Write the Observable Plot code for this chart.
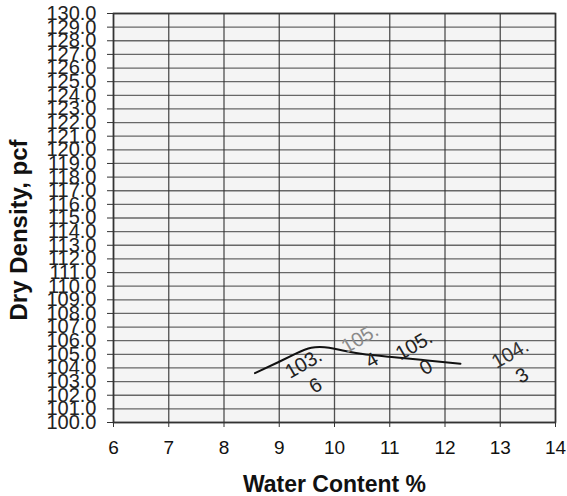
<!DOCTYPE html>
<html>
<head>
<meta charset="utf-8">
<script src="https://cdn.jsdelivr.net/npm/d3@7"></script>
<script src="https://cdn.jsdelivr.net/npm/@observablehq/plot@0.6"></script>
<style>
  html, body { margin: 0; padding: 0; background: #fff; }
  #chart svg { display: block; }
</style>
</head>
<body>
<div id="chart"></div>
<script>
// Compaction curve
const curveWater = [8.56, 8.98, 9.30, 9.58, 9.82, 10.0, 10.48, 11.08, 11.68, 12.28];
const curveDensity = [103.62, 104.42, 105.05, 105.48, 105.52, 105.41, 105.04, 104.79, 104.55, 104.31];

// Point labels (values split over two lines, as in the picture)
const labelTop = ["103.", "105.", "105.", "104."];
const labelBottom = ["6", "4", "0", "3"];
const labelX = [9.44, 10.46, 11.44, 13.18];
const labelY = [104.31, 106.16, 105.65, 105.04];
const labelTopColor = ["#222", "#8a8a8a", "#222", "#333"];

const xTicks = [6, 7, 8, 9, 10, 11, 12, 13, 14];
const yTicks = [100, 101, 102, 103, 104, 105, 106, 107, 108, 109, 110, 111, 112, 113, 114, 115,
                116, 117, 118, 119, 120, 121, 122, 123, 124, 125, 126, 127, 128, 129, 130];

const xTitle = "Water Content %";
const yTitle = "Dry Density, pcf";

const curve = curveWater.map((w, i) => ({w, d: curveDensity[i]}));
const labels = labelTop.map((t, i) => ({top: t, bottom: labelBottom[i], x: labelX[i], y: labelY[i], c: labelTopColor[i]}));

const font = "'Liberation Sans', Arial, sans-serif";

const chart = Plot.plot({
  width: 567,
  height: 496,
  marginLeft: 113,
  marginRight: 12,
  marginTop: 13,
  marginBottom: 74,
  style: {fontFamily: font, background: "#fff", color: "#222"},
  x: {domain: [6, 14], ticks: xTicks, label: null},
  y: {domain: [100, 130], ticks: yTicks, label: null},
  marks: [
    Plot.frame({fill: "#f4f4f4", stroke: null}),
    Plot.gridY(yTicks, {stroke: "#444", strokeOpacity: 0.8, strokeWidth: 1.3}),
    Plot.gridX(xTicks, {stroke: "#333", strokeOpacity: 0.85, strokeWidth: 1.3}),
    Plot.axisY(yTicks, {
      tickSize: 6, tickPadding: 11, fontSize: 20, stroke: "#333",
      tickFormat: d => d.toFixed(1), fill: "#222"
    }),
    Plot.axisX(xTicks, {
      tickSize: 5, tickPadding: 13, fontSize: 19, stroke: "#333", fill: "#111"
    }),
    Plot.frame({stroke: "#333", strokeWidth: 1.6}),
    Plot.line(curve, {x: "w", y: "d", curve: "natural", stroke: "#111", strokeWidth: 2}),
    Plot.text(labels, {
      x: "x", y: "y", text: "top", rotate: -30, fontSize: 20, fill: "c"
    }),
    Plot.text(labels, {
      x: "x", y: "y", text: "bottom", rotate: -30, fontSize: 20, fill: "#222", dx: 12, dy: 22
    }),
    Plot.text([yTitle], {
      frameAnchor: "left", textAnchor: "middle", lineAnchor: "middle",
      dx: -94, dy: 12, rotate: -90, fontSize: 24, fontWeight: "bold", fill: "#111"
    }),
    Plot.text([xTitle], {
      frameAnchor: "bottom", textAnchor: "middle", lineAnchor: "middle",
      dy: 62, fontSize: 23, fontWeight: "bold", fill: "#111"
    })
  ]
});

document.getElementById("chart").append(chart);
</script>
</body>
</html>
